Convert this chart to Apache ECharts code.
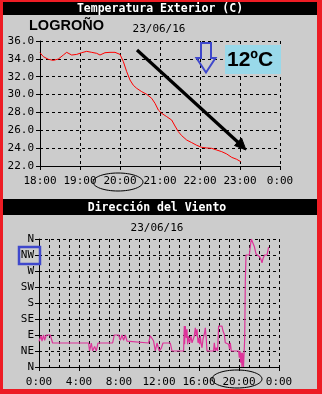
<!DOCTYPE html>
<html><head><meta charset="utf-8">
<script src="https://cdn.jsdelivr.net/npm/echarts@6/dist/echarts.min.js"></script>
<style>html,body{margin:0;padding:0;background:#ed1c24}#c{width:322px;height:394px}</style>
</head><body><div id="c"></div>
<script>
const tempTitle = 'Temperatura Exterior (C)';
const windTitle = 'Dirección del Viento';
const dateLabel = '23/06/16';
const tempHours = [18.0,18.083,18.208,18.333,18.458,18.583,18.667,18.792,18.917,19.042,19.167,19.292,19.417,19.5,19.625,19.75,19.875,20.0,20.083,20.167,20.25,20.333,20.417,20.542,20.667,20.792,20.875,20.958,21.042,21.167,21.292,21.375,21.458,21.542,21.667,21.792,21.917,22.042,22.167,22.292,22.417,22.542,22.667,22.792,22.917,23.017];
const tempValues = [34.69,34.25,33.95,33.83,33.98,34.43,34.73,34.43,34.5,34.69,34.84,34.73,34.62,34.43,34.69,34.73,34.73,34.5,33.7,32.57,31.63,31.04,30.7,30.33,30.03,29.58,29.02,28.27,27.9,27.53,27.15,26.48,25.85,25.4,24.91,24.62,24.32,24.09,24.02,23.98,23.79,23.61,23.35,22.97,22.75,22.49];
const windHours = [0.0,0.2,0.3,0.46,0.56,0.73,1.13,1.36,4.96,5.06,5.23,5.36,5.56,5.73,5.9,7.36,7.53,7.96,8.13,8.3,8.46,8.63,8.8,8.96,10.96,11.13,11.46,11.63,11.8,12.03,12.23,12.4,13.13,13.3,14.46,14.53,14.56,14.63,14.73,14.8,14.86,14.96,15.06,15.2,15.3,15.46,15.53,15.63,15.73,15.8,15.9,15.96,16.06,16.13,16.2,16.3,16.4,16.46,16.56,16.63,16.73,16.8,17.46,17.53,17.63,17.73,17.86,17.96,18.3,18.4,18.53,18.63,18.8,18.96,19.06,19.13,19.23,19.96,20.03,20.1,20.16,20.23,20.3,20.36,20.45,20.52,20.57,20.63,20.7,21.03,21.13,21.23,21.4,21.53,21.7,21.86,22.06,22.2,22.3,22.4,22.56,22.8,22.96];
const windDeg = [72,88,73,90,75,90,90,67.5,67.5,45,67.5,45,58,45,67.5,67.5,90,90,75,90,75,90,73,67.5,67.5,88,73,45,67.5,45,53,67.5,67.5,45,45,115,64,115,82,106,64,87,68,87,68,68,87,110,87,106,68,82,64,87,68,54,78,82,96,110,78,45,45,68,45,54,45,115,115,101,92,68,68,64,50,68,45,45,26,45,12,40,0,40,0,0,80,240,315,315,339,360,360,339,318,315,310,302,293,305,315,315,337];
const tempTicks = {min:22, max:36, step:2};
const dirLabels = ['N','NE','E','SE','S','SW','W','NW','N'];

const MONO = 'DejaVu Sans Mono';
const dash = {color:'#000', width:1, type:[3,3]};
const chart = echarts.init(document.getElementById('c'), null, {renderer:'canvas'});
const tempData = tempHours.map((h,i)=>[h,tempValues[i]]);
const windData = windHours.map((h,i)=>[h,windDeg[i]]);
const hourFmt = v => (Math.round(v)%24)+':00';

chart.setOption({
  backgroundColor:'#ed1c24',
  animation:false,
  grid:[
    {left:40, top:41, width:240, height:125},
    {left:39, top:239, width:240, height:128}
  ],
  xAxis:[
    {gridIndex:0, type:'value', min:18, max:24, interval:1,
     axisLine:{lineStyle:{color:'#000',width:1}}, axisTick:{length:4,lineStyle:{color:'#000'}},
     splitLine:{show:true,lineStyle:dash},
     axisLabel:{formatter:hourFmt, color:'#000', fontFamily:MONO, fontSize:11, margin:10, showMinLabel:true, showMaxLabel:true}},
    {gridIndex:1, type:'value', min:0, max:24, interval:4,
     axisLine:{lineStyle:{color:'#000',width:1}}, axisTick:{length:4,lineStyle:{color:'#000'}},
     splitLine:{show:true,lineStyle:dash},
     minorTick:{show:false, splitNumber:4},
     minorSplitLine:{show:true,lineStyle:dash},
     axisLabel:{formatter:hourFmt, color:'#000', fontFamily:MONO, fontSize:11, margin:10, showMinLabel:true, showMaxLabel:true}}
  ],
  yAxis:[
    {gridIndex:0, type:'value', min:tempTicks.min, max:tempTicks.max, interval:tempTicks.step,
     axisLine:{show:true,lineStyle:{color:'#000',width:1}}, axisTick:{show:true,length:4,lineStyle:{color:'#000'}},
     splitLine:{show:true,lineStyle:dash},
     axisLabel:{formatter:v=>v.toFixed(1), color:'#000', fontFamily:MONO, fontSize:11, margin:6}},
    {gridIndex:1, type:'value', min:0, max:360, interval:45,
     axisLine:{show:true,lineStyle:{color:'#000',width:1}}, axisTick:{show:true,length:4,lineStyle:{color:'#000'}},
     splitLine:{show:true,lineStyle:dash},
     axisLabel:{formatter:v=>dirLabels[Math.round(v/45)], color:'#000', fontFamily:MONO, fontSize:11, margin:5}}
  ],
  series:[
    {type:'line', xAxisIndex:0, yAxisIndex:0, data:tempData, showSymbol:false, symbol:'none',
     lineStyle:{color:'#ff0000', width:1}, z:5},
    {type:'line', xAxisIndex:1, yAxisIndex:1, data:windData, showSymbol:false, symbol:'none',
     lineStyle:{color:'#dd3399', width:1.2}, z:5}
  ],
  graphic:[
    {type:'rect', z:-100, silent:true, shape:{x:3,y:2,width:314,height:387}, style:{fill:'#cccccc'}},
    {type:'rect', z:-99, silent:true, shape:{x:3,y:2,width:314,height:13}, style:{fill:'#000'}},
    {type:'rect', z:-99, silent:true, shape:{x:3,y:199,width:314,height:16}, style:{fill:'#000'}},
    {type:'text', z:100, style:{text:tempTitle, x:160, y:9, align:'center', verticalAlign:'middle', fill:'#fff', font:'bold 11.5px "DejaVu Sans Mono"'}},
    {type:'text', z:100, style:{text:windTitle, x:157, y:208, align:'center', verticalAlign:'middle', fill:'#fff', font:'bold 11.5px "DejaVu Sans Mono"'}},
    {type:'text', z:100, style:{text:dateLabel, x:159, y:29, align:'center', verticalAlign:'middle', fill:'#000', font:'11px "DejaVu Sans Mono"'}},
    {type:'text', z:100, style:{text:dateLabel, x:157, y:228, align:'center', verticalAlign:'middle', fill:'#000', font:'11px "DejaVu Sans Mono"'}},
    {type:'text', z:100, style:{text:'LOGROÑO', x:29, y:26, align:'left', verticalAlign:'middle', fill:'#000', font:'bold 14.5px "Liberation Sans"'}},
    {type:'rect', z:100, shape:{x:225,y:45,width:56,height:29}, style:{fill:'#99d9ea'}},
    {type:'text', z:101, style:{text:'12ºC', x:227, y:60, align:'left', verticalAlign:'middle', fill:'#000', font:'bold 21px "Liberation Sans"'}},
    {type:'polygon', z:100, shape:{points:[[201,43],[211,43],[211,58],[215.5,58],[206,72.5],[196.5,58],[201,58]]}, style:{fill:'none', stroke:'#3f48cc', lineWidth:2}},
    {type:'line', z:100, shape:{x1:137,y1:50,x2:241,y2:145}, style:{stroke:'#000', lineWidth:3.2}},
    {type:'polygon', z:100, shape:{points:[[246,150],[234.5,145.5],[241.5,138]]}, style:{fill:'#000', stroke:'#000', lineWidth:1}},
    {type:'ellipse', z:100, shape:{cx:118,cy:182,rx:25,ry:9}, style:{fill:'none', stroke:'#000', lineWidth:1}},
    {type:'ellipse', z:100, shape:{cx:237,cy:379,rx:25,ry:9}, style:{fill:'none', stroke:'#000', lineWidth:1}},
    {type:'rect', z:100, shape:{x:19,y:247,width:21,height:17}, style:{fill:'none', stroke:'#3f48cc', lineWidth:2.5}}
  ]
});
</script></body></html>
